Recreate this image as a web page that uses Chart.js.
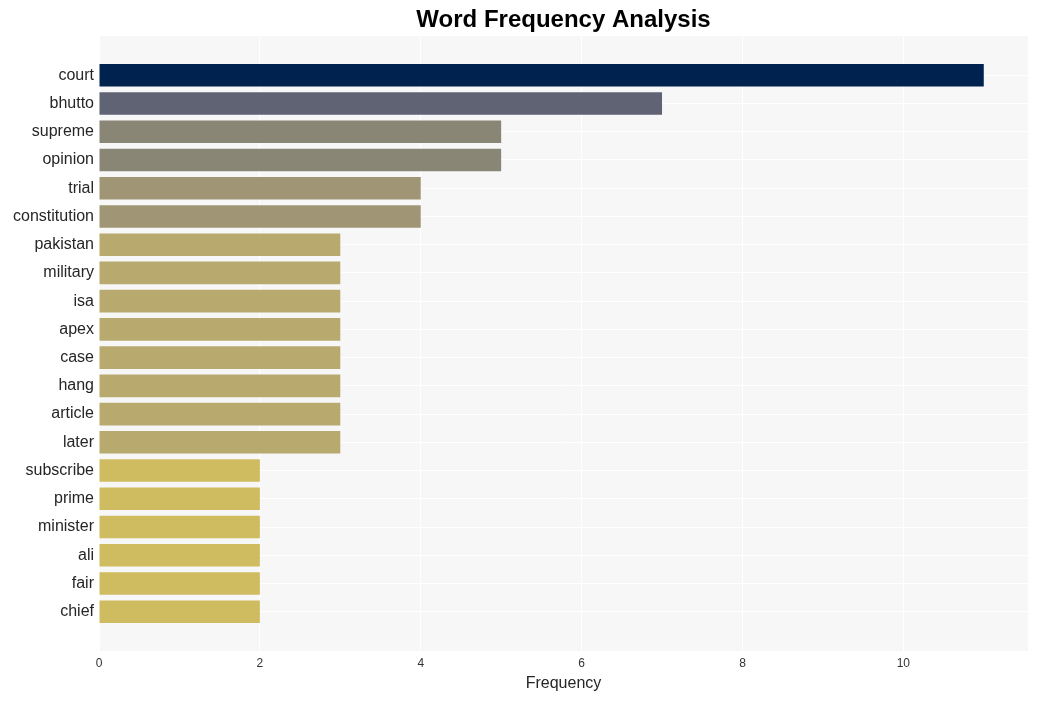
<!DOCTYPE html>
<html lang="en">
<head>
  <meta charset="UTF-8">
  <title>Word Frequency Analysis</title>
  <script src="https://cdn.jsdelivr.net/npm/chart.js@4.4.7/dist/chart.umd.min.js"></script>
  <style>
    * { margin: 0; padding: 0; box-sizing: border-box; }
    body { background: #fff; font-family: 'Liberation Sans', Arial, sans-serif; }
    .wrap { width: 1038px; height: 701px; position: relative; }
  </style>
</head>
<body>
  <div class="wrap"><canvas id="barChart"></canvas></div>

  <script>
    // data
    const words = ['court', 'bhutto', 'supreme', 'opinion', 'trial', 'constitution',
      'pakistan', 'military', 'isa', 'apex', 'case', 'hang', 'article', 'later',
      'subscribe', 'prime', 'minister', 'ali', 'fair', 'chief'];
    const counts = [11, 7, 5, 5, 4, 4, 3, 3, 3, 3, 3, 3, 3, 3, 2, 2, 2, 2, 2, 2];
    const xTicks = [0, 2, 4, 6, 8, 10];

    // colour per count level
    const levelColors = { 11: '#00224e', 7: '#5f6373', 5: '#898676', 4: '#a09675', 3: '#b8a96f', 2: '#cfbc60' };

    const FONT = "'Liberation Sans', Arial, Helvetica, sans-serif";

    // plot panel background + centred title
    const panel = {
      id: 'panel',
      beforeDraw(chart) {
        const { ctx, chartArea: a } = chart;
        ctx.save();
        ctx.fillStyle = '#f7f7f7';
        ctx.fillRect(a.left, a.top, a.right - a.left, a.bottom - a.top);
        ctx.restore();
      },
      afterDraw(chart) {
        const { ctx, chartArea: a } = chart;
        ctx.save();
        ctx.fillStyle = '#000';
        ctx.font = 'bold 24px ' + FONT;
        ctx.textAlign = 'center';
        ctx.textBaseline = 'middle';
        ctx.fillText('Word Frequency Analysis', (a.left + a.right) / 2, 20);
        ctx.restore();
      }
    };

    const n = words.length;
    const pad = 0.4 + (n - 0.2) * 0.05;

    new Chart(document.getElementById('barChart'), {
      type: 'bar',
      data: {
        datasets: [{
          data: counts.map((c, i) => ({ x: c, y: i })),
          backgroundColor: counts.map(c => levelColors[c]),
          borderWidth: 0,
          categoryPercentage: 1,
          barPercentage: 0.8,
        }]
      },
      plugins: [panel],
      options: {
        indexAxis: 'y',
        responsive: true,
        maintainAspectRatio: false,
        animation: false,
        layout: { padding: { top: 36, right: 10, left: 0, bottom: 0 } },
        plugins: {
          legend: { display: false },
          tooltip: { enabled: false },
        },
        scales: {
          y: {
            type: 'linear',
            reverse: true,
            offset: false,
            min: -pad,
            max: n - 1 + pad,
            afterBuildTicks(scale) {
              scale.ticks = words.map((w, i) => ({ value: i }));
            },
            afterFit(scale) { scale.width = 99; },
            border: { display: false },
            grid: { color: '#ffffff', lineWidth: 1, drawTicks: false, offset: false },
            ticks: {
              padding: 5,
              autoSkip: false,
              color: '#262626',
              font: { family: FONT, size: 16 },
              callback: v => words[v],
            },
          },
          x: {
            type: 'linear',
            min: 0,
            max: Math.max(...counts) * 1.05,
            afterBuildTicks(scale) {
              scale.ticks = xTicks.map(v => ({ value: v }));
            },
            afterFit(scale) { scale.height = 50; },
            border: { display: false },
            grid: { color: '#ffffff', lineWidth: 1, drawTicks: false },
            ticks: {
              padding: 5,
              color: '#333333',
              font: { family: FONT, size: 12 },
            },
            title: {
              display: true,
              text: 'Frequency',
              color: '#262626',
              font: { family: FONT, size: 16 },
              padding: { top: 0, bottom: 8 },
            },
          },
        },
      },
    });
  </script>
</body>
</html>
